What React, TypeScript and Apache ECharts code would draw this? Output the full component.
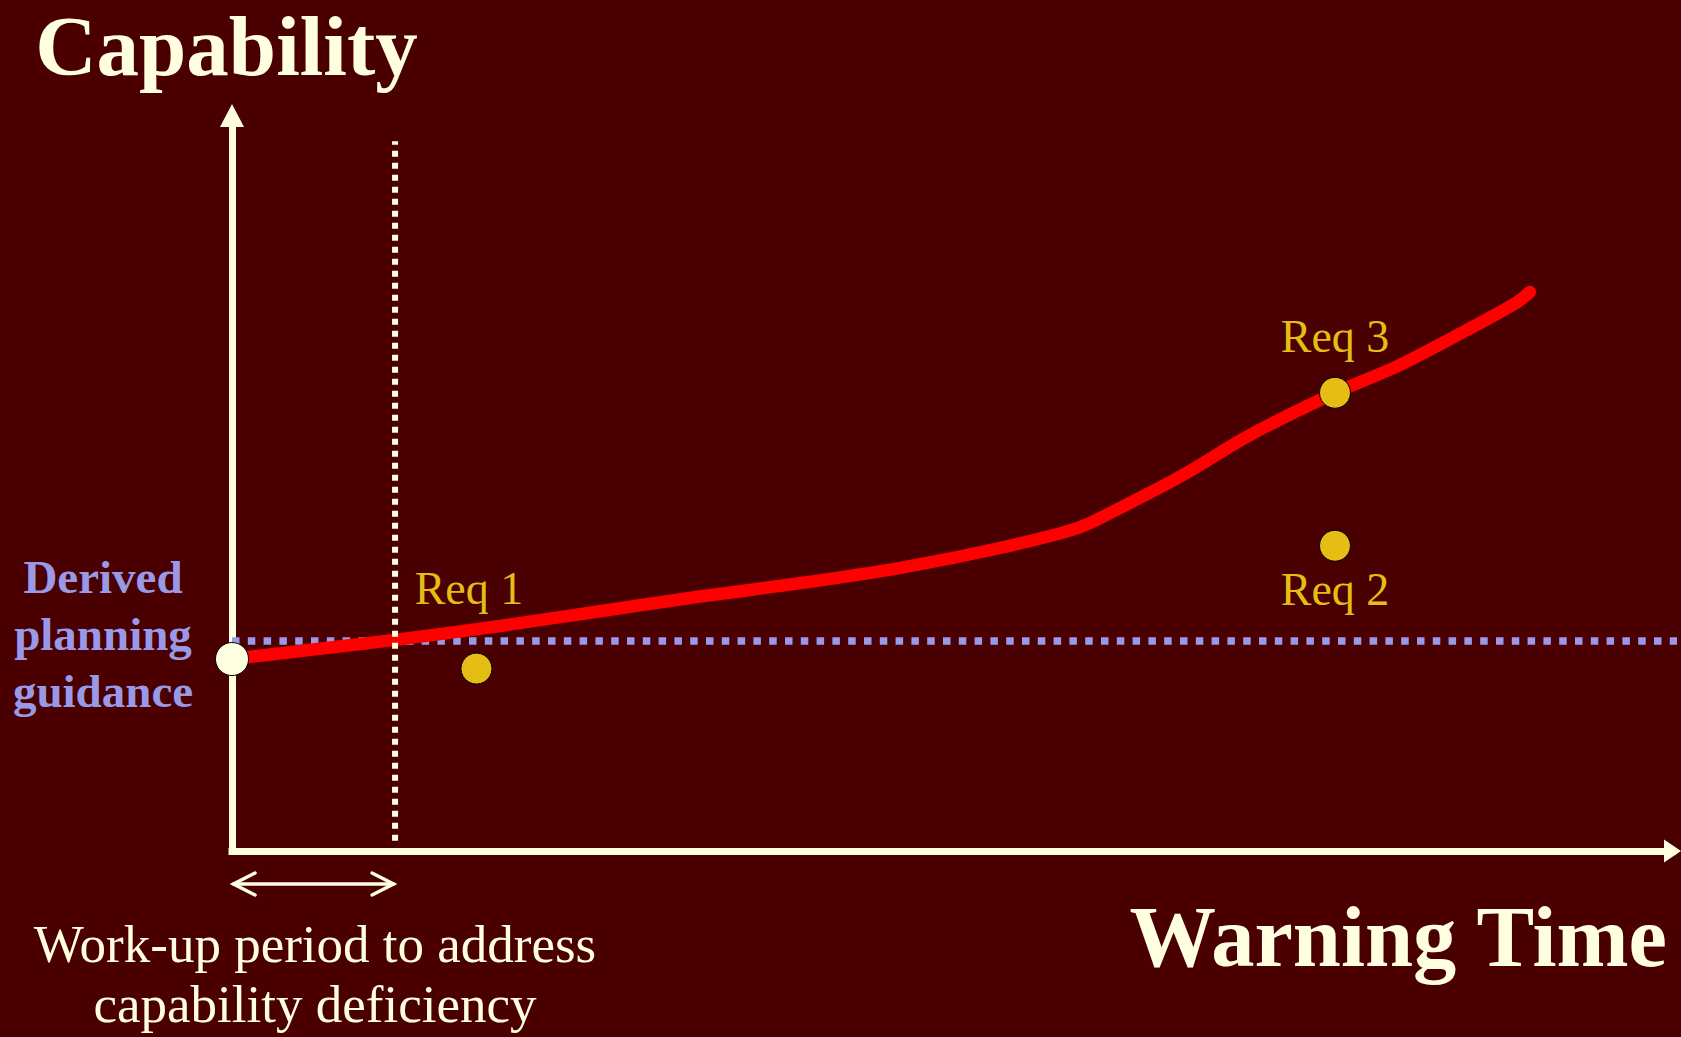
import React, { useEffect, useRef } from "react";
import * as echarts from "echarts";

// ---- data ----
const xTitle = "Warning Time";
const yTitle = "Capability";
const curveX = [0, 4.72, 11.32, 18.6, 25.55, 32.5, 39.4, 46.4, 53.3, 58.7, 61.4, 66.0, 70.7, 76.6, 81.1, 85.7, 89.2, 90.1];
const curveY = [26.1, 27.2, 28.7, 30.6, 32.6, 34.6, 36.4, 38.5, 41.2, 43.9, 46.4, 51.1, 56.6, 62.3, 66.1, 70.8, 74.6, 76.0];
const startPoint = [0, 26.1];
const reqNames = ["Req 1", "Req 2", "Req 3"];
const reqX = [16.97, 76.57, 76.57];
const reqY = [24.8, 41.5, 62.3];
const guidanceLevel = 28.55;
const guidanceExtent = [0, 100.6];
const workUpEnd = 11.32;
const workUpLineRange = [1.4, 96.5];
const guidanceLabel = ["Derived", "planning", "guidance"];
const workUpLabel = ["Work-up period to address", "capability deficiency"];

// ---- styles ----
const FONT = "'Liberation Serif', 'Times New Roman', serif";
const BG = "#4a0000";
const CREAM = "#ffffe0";
const GOLD = "#e5bd14";
const LAV = "#9999e8";
const RED = "#ff0000";
const reqLabelOffsets = [
  [-7.5, -80],
  [0, 44.2],
  [0, -56.3],
];

export default function App() {
  const ref = useRef<HTMLDivElement>(null);

  useEffect(() => {
    document.body.style.margin = "0";
    document.body.style.overflow = "hidden";
    if (!ref.current) return;
    const chart = echarts.init(ref.current, undefined, { renderer: "svg" });

    const axisCommon = {
      type: "value" as const,
      min: 0,
      max: 100,
      axisTick: { show: false },
      axisLabel: { show: false },
      splitLine: { show: false },
    };

    const option: any = {
      animation: false,
      backgroundColor: BG,
      grid: { left: 232, right: 8.5, top: 115.5, bottom: 186 },
      xAxis: {
        ...axisCommon,
        name: xTitle,
        nameLocation: "end",
        nameGap: -5.5,
        nameTextStyle: {
          fontFamily: FONT,
          fontSize: 86.5,
          fontWeight: "bold",
          color: CREAM,
          align: "right",
          verticalAlign: "top",
          lineHeight: 86,
          padding: [43, 0, 0, 0],
        },
        axisLine: {
          show: true,
          onZero: false,
          symbol: ["none", "triangle"],
          symbolSize: [23, 17],
          lineStyle: { color: CREAM, width: 7, cap: "square" },
        },
      },
      yAxis: {
        ...axisCommon,
        name: yTitle,
        nameLocation: "end",
        nameGap: 32,
        nameTextStyle: {
          fontFamily: FONT,
          fontSize: 85,
          fontWeight: "bold",
          color: CREAM,
          align: "center",
          verticalAlign: "bottom",
          lineHeight: 76,
          padding: [0, 11, 0, 0],
        },
        axisLine: {
          show: true,
          onZero: false,
          symbol: ["none", "triangle"],
          symbolSize: [24, 23],
          lineStyle: { color: CREAM, width: 7, cap: "square" },
        },
      },
      series: [
        {
          name: "guidance",
          type: "line",
          z: 2,
          data: guidanceExtent.map((x) => [x, guidanceLevel]),
          symbol: "none",
          clip: false,
          silent: true,
          lineStyle: { color: LAV, width: 7.5, type: [7.5, 8.3] },
        },
        {
          name: "capability",
          type: "line",
          z: 3,
          data: curveX.map((x, i) => [x, curveY[i]]),
          smooth: 0.3,
          symbol: "none",
          clip: false,
          silent: true,
          lineStyle: { color: RED, width: 12.5, cap: "round", join: "round" },
        },
        {
          name: "workup",
          type: "line",
          z: 4,
          data: workUpLineRange.map((y) => [workUpEnd, y]),
          symbol: "none",
          clip: false,
          silent: true,
          lineStyle: { color: CREAM, width: 6, type: [6, 6] },
        },
        {
          name: "points",
          type: "scatter",
          z: 10,
          clip: false,
          silent: true,
          itemStyle: { opacity: 1 },
          data: [
            {
              value: startPoint,
              symbolSize: 33,
              itemStyle: { color: CREAM, borderColor: "#000", borderWidth: 1, opacity: 1 },
            },
            ...reqNames.map((n, i) => ({
              name: n,
              value: [reqX[i], reqY[i]],
              symbolSize: 31,
              itemStyle: { color: GOLD, borderColor: "#000", borderWidth: 1, opacity: 1 },
              label: {
                show: true,
                formatter: n,
                position: "inside",
                offset: reqLabelOffsets[i],
                align: "center",
                verticalAlign: "middle",
                fontFamily: FONT,
                fontSize: 46,
                lineHeight: 46,
                color: GOLD,
                opacity: 1,
              },
            })),
          ],
        },
      ],
    };
    chart.setOption(option);

    const p0 = chart.convertToPixel({ gridIndex: 0 }, [0, 0]) as number[];
    const p1 = chart.convertToPixel({ gridIndex: 0 }, [workUpEnd, 0]) as number[];
    const ax0 = p0[0] + 1.5;
    const ax1 = p1[0] - 1.5;
    const ay = p0[1] + 33;
    const arm = 21.5;
    const half = 11;
    const arrowStyle = { stroke: CREAM, lineWidth: 3.5, fill: "none", lineCap: "round", lineJoin: "miter" };

    chart.setOption({
      graphic: [
        {
          type: "text",
          x: 103,
          y: 634,
          silent: true,
          style: {
            text: guidanceLabel.join("\n"),
            font: `bold 47px ${FONT}`,
            fill: LAV,
            align: "center",
            verticalAlign: "middle",
            lineHeight: 56.7,
          },
        },
        {
          type: "text",
          x: 315,
          y: 973.8,
          silent: true,
          style: {
            text: workUpLabel.join("\n"),
            font: `53px ${FONT}`,
            fill: CREAM,
            align: "center",
            verticalAlign: "middle",
            lineHeight: 60,
          },
        },
        {
          type: "group",
          silent: true,
          children: [
            { type: "line", shape: { x1: ax0, y1: ay, x2: ax1, y2: ay }, style: arrowStyle },
            {
              type: "polyline",
              shape: { points: [[ax0 + arm, ay - half], [ax0, ay], [ax0 + arm, ay + half]] },
              style: arrowStyle,
            },
            {
              type: "polyline",
              shape: { points: [[ax1 - arm, ay - half], [ax1, ay], [ax1 - arm, ay + half]] },
              style: arrowStyle,
            },
          ],
        },
      ],
    });

    return () => chart.dispose();
  }, []);

  return <div ref={ref} style={{ width: 1681, height: 1037 }} />;
}
